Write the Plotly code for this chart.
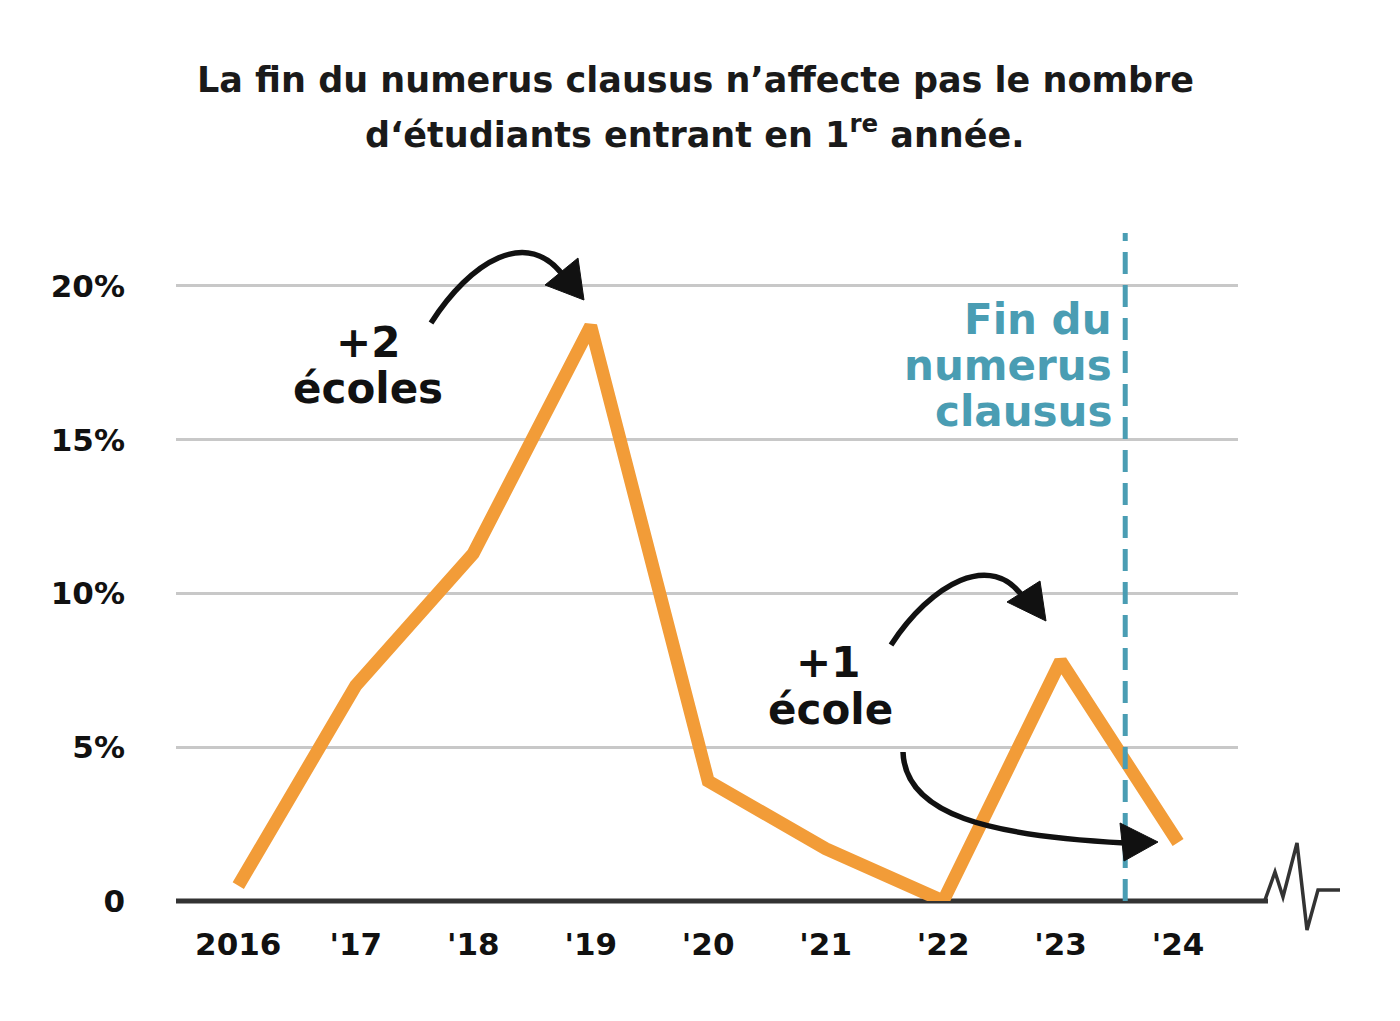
import plotly.graph_objects as go

years = ["2016", "'17", "'18", "'19", "'20", "'21", "'22", "'23", "'24"]
growth_pct = [0.5, 7.0, 11.3, 18.7, 3.9, 1.7, 0.0, 7.8, 1.9]
y_ticks = [0, 5, 10, 15, 20]
y_tick_labels = ["0", "5%", "10%", "15%", "20%"]
end_numerus_pos = 7.55  # between '23 and '24
title_lines = ["La fin du numerus clausus n’affecte pas le nombre",
               "d‘étudiants entrant en 1<sup>re</sup> année."]
fin_lines = ["Fin du", "numerus", "clausus"]

W, H = 1400, 1021
OFF = 8  # page body margin
L, R, T, B = 176, 1238, 233, 901
FONT = "DejaVu Sans"
ORANGE = "#F29C38"
TEAL = "#4A9DB3"
INK = "#111111"

def px(x):
    return (x - L) / (R - L)

def py(y):
    return (B - y) / (B - T)

fig = go.Figure()
fig.add_trace(go.Scatter(
    x=list(range(len(years))), y=growth_pct, mode="lines",
    line=dict(color=ORANGE, width=13), cliponaxis=False, hoverinfo="skip"))

fig.update_layout(
    width=W, height=H, plot_bgcolor="white", paper_bgcolor="white",
    margin=dict(l=L - OFF, r=W + OFF - R, t=T - OFF, b=H + OFF - B),
    showlegend=False,
    font=dict(family=FONT, color=INK),
)
fig.update_xaxes(
    range=[-0.53, 8.51], tickmode="array", tickvals=list(range(len(years))),
    ticktext=years, showgrid=False, zeroline=False, showline=False,
    tickfont=dict(family=FONT, size=31, color=INK, weight=700), ticks="",
    ticklabelstandoff=22)
fig.update_yaxes(
    range=[0, 21.72], tickmode="array", tickvals=y_ticks, ticktext=y_tick_labels,
    showgrid=True, gridcolor="#C8C8C8", gridwidth=3, zeroline=False, showline=False,
    tickfont=dict(family=FONT, size=31, color=INK, weight=700), ticks="",
    ticklabelstandoff=50)

# title (two lines placed separately for tighter line spacing)
for txt, yy in zip(title_lines, [80, 132]):
    fig.add_annotation(xref="paper", yref="paper", x=px(695), y=py(yy),
                       xanchor="center", yanchor="middle", text=txt, showarrow=False,
                       font=dict(family=FONT, size=35, color="#1a1a1a", weight=700))

# baseline (zero) line extended + heartbeat squiggle
fig.add_shape(type="line", xref="paper", yref="paper", x0=0, x1=px(1268), y0=0, y1=0,
              line=dict(color="#333333", width=5), layer="below")
pts = [(1265, 900), (1275, 872), (1283, 897), (1297, 843), (1307, 930), (1318, 890), (1340, 890)]
path = "M " + " L ".join(f"{px(x):.5f},{py(y):.5f}" for x, y in pts)
fig.add_shape(type="path", xref="paper", yref="paper", path=path,
              line=dict(color="#333333", width=3.5))

# end of numerus clausus dashed line
fig.add_shape(type="line", xref="x", yref="paper", x0=end_numerus_pos, x1=end_numerus_pos,
              y0=0, y1=1, line=dict(color=TEAL, width=5, dash="22px,11px"))

def curve(p0, c1, c2, p1):
    s = [f"{px(x):.5f},{py(y):.5f}" for x, y in (p0, c1, c2, p1)]
    return f"M {s[0]} C {s[1]} {s[2]} {s[3]}"

def tri(a, b, c):
    s = [f"{px(x):.5f},{py(y):.5f}" for x, y in (a, b, c)]
    return f"M {s[0]} L {s[1]} L {s[2]} Z"

arrows = [
    (curve((431, 323), (470, 262), (528, 225), (565, 278)), tri((545, 285), (578, 258), (584, 300))),
    (curve((891, 645), (930, 585), (992, 548), (1025, 600)), tri((1007, 602), (1040, 581), (1046, 621))),
    (curve((903, 752), (905, 815), (990, 836), (1125, 843)), tri((1120, 823), (1124, 861), (1158, 842))),
]
for c, t in arrows:
    fig.add_shape(type="path", xref="paper", yref="paper", path=c,
                  line=dict(color=INK, width=5.5))
    fig.add_shape(type="path", xref="paper", yref="paper", path=t,
                  line=dict(color=INK, width=1), fillcolor=INK)

def label(text, x, y, size, color=INK, xanchor="center"):
    fig.add_annotation(xref="paper", yref="paper", x=px(x), y=py(y), text=text,
                       showarrow=False, xanchor=xanchor, yanchor="middle",
                       font=dict(family=FONT, size=size, color=color, weight=700))

label("+2", 368, 342, 42)
label("écoles", 368, 388, 42)
label("+1", 828, 662, 42)
label("école", 830, 709, 42)
for txt, yy in zip(fin_lines, [319, 365, 411]):
    label(txt, 1114, yy, 42, color=TEAL, xanchor="right")

fig.write_html("out.html")
